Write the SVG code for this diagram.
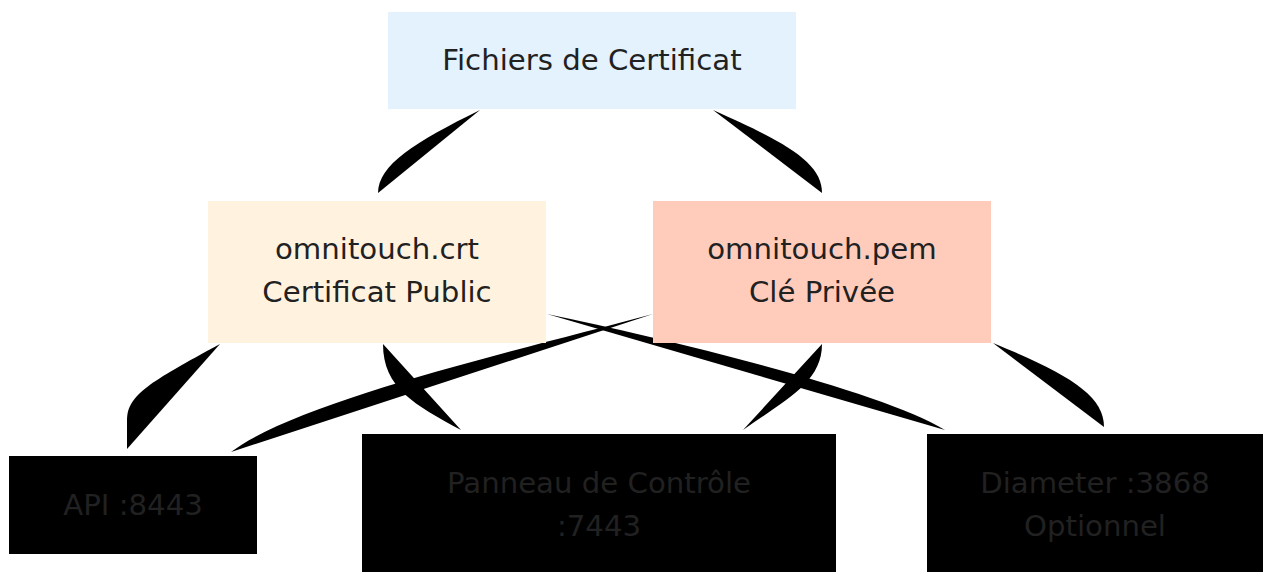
<svg xmlns="http://www.w3.org/2000/svg" width="1263" height="572" viewBox="0 0 1263 572">
<style>
.edge{fill:#000;stroke:none}
.lbl{font-family:"DejaVu Sans",sans-serif;font-size:29.2px;fill:#212121;text-anchor:middle}
.dark{fill:#000}
</style>
<rect width="1263" height="572" fill="#fff"/>
<g id="connectors">
<path class="edge" d="M480,110 C415,142 378,165 378,193 Z"/>
<path class="edge" d="M713,110 C785,142 822,162 822,193 Z"/>
<path class="edge" d="M220,344 C150,382 127,395 127,420 L127,449 Z"/>
<path class="edge" d="M383,344 C383,388 415,405 461,430 Z"/>
<path class="edge" d="M653,314 C520,350 300,400 231,452 Z"/>
<path class="edge" d="M547,314 C670,340 880,390 945,430 Z"/>
<path class="edge" d="M822,344 C822,383 785,400 743,430 Z"/>
<path class="edge" d="M993,343 C1068,374 1104,395 1104,427 Z"/>
</g>
<g id="node-certfiles">
<rect x="388" y="12" width="408" height="97" fill="#E3F2FD"/>
<text class="lbl" x="592" y="70">Fichiers de Certificat</text>
</g>
<g id="node-crt">
<rect x="208" y="201" width="338" height="142" fill="#FFF3E0"/>
<text class="lbl" x="377" y="259">omnitouch.crt</text>
<text class="lbl" x="377" y="302">Certificat Public</text>
</g>
<g id="node-pem">
<rect x="653" y="201" width="338" height="142" fill="#FFCCBC"/>
<text class="lbl" x="822" y="259">omnitouch.pem</text>
<text class="lbl" x="822" y="302">Clé Privée</text>
</g>
<g id="node-api">
<rect class="dark" x="9" y="456" width="248" height="98"/>
<text class="lbl" x="133" y="515">API :8443</text>
</g>
<g id="node-panel">
<rect class="dark" x="362" y="434" width="474" height="142"/>
<text class="lbl" x="599" y="493">Panneau de Contrôle</text>
<text class="lbl" x="599" y="536">:7443</text>
</g>
<g id="node-diameter">
<rect class="dark" x="927" y="434" width="336" height="142"/>
<text class="lbl" x="1095" y="493">Diameter :3868</text>
<text class="lbl" x="1095" y="536">Optionnel</text>
</g>
</svg>
